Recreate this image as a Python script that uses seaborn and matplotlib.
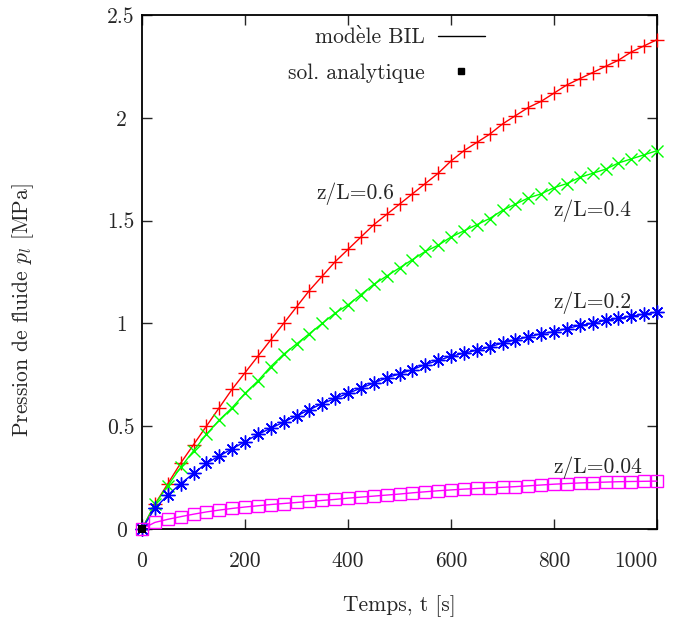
import numpy as np
import pandas as pd
import matplotlib
matplotlib.use("Agg")
import matplotlib.pyplot as plt
from matplotlib.lines import Line2D
import seaborn as sns

# ---- data ----
t = [0, 25, 50, 75, 100, 125, 150, 175, 200, 225, 250, 275, 300, 325, 350, 375,
     400, 425, 450, 475, 500, 525, 550, 575, 600, 625, 650, 675, 700, 725, 750,
     775, 800, 825, 850, 875, 900, 925, 950, 975, 1000]

p_06 = [0.00, 0.12, 0.22, 0.32, 0.41, 0.50, 0.59, 0.68, 0.76, 0.84, 0.92, 1.00,
        1.08, 1.16, 1.23, 1.30, 1.36, 1.42, 1.48, 1.53, 1.58, 1.63, 1.68, 1.73,
        1.79, 1.84, 1.88, 1.92, 1.97, 2.01, 2.05, 2.08, 2.12, 2.16, 2.19, 2.22,
        2.25, 2.28, 2.32, 2.35, 2.38]
p_04 = [0.00, 0.12, 0.21, 0.30, 0.38, 0.46, 0.53, 0.59, 0.66, 0.72, 0.79, 0.85,
        0.90, 0.95, 1.00, 1.05, 1.09, 1.14, 1.19, 1.23, 1.27, 1.31, 1.35, 1.38,
        1.42, 1.45, 1.48, 1.51, 1.55, 1.58, 1.61, 1.63, 1.66, 1.68, 1.71, 1.73,
        1.75, 1.78, 1.80, 1.82, 1.84]
p_02 = [0.00, 0.10, 0.165, 0.22, 0.27, 0.32, 0.355, 0.39, 0.425, 0.46, 0.49, 0.52,
        0.55, 0.58, 0.61, 0.635, 0.66, 0.685, 0.71, 0.735, 0.755, 0.775, 0.80,
        0.82, 0.84, 0.855, 0.87, 0.885, 0.905, 0.92, 0.935, 0.95, 0.96, 0.975,
        0.99, 1.00, 1.015, 1.025, 1.035, 1.045, 1.055]
p_004 = [0.000, 0.032, 0.047, 0.060, 0.072, 0.083, 0.092, 0.100, 0.107, 0.113,
         0.119, 0.124, 0.129, 0.134, 0.139, 0.144, 0.150, 0.155, 0.160, 0.165,
         0.170, 0.176, 0.181, 0.186, 0.190, 0.194, 0.197, 0.200, 0.203, 0.206,
         0.210, 0.214, 0.218, 0.221, 0.224, 0.226, 0.228, 0.230, 0.231, 0.232,
         0.233]

curve_labels = ["z/L=0.6", "z/L=0.4", "z/L=0.2", "z/L=0.04"]
label_pos = [(338, 1.63), (798, 1.55), (798, 1.10), (798, 0.30)]
x_ticks = [0, 200, 400, 600, 800, 1000]
y_ticks = [0, 0.5, 1, 1.5, 2, 2.5]
y_tick_labels = ["0", "0.5", "1", "1.5", "2", "2.5"]
# "modèle" written with a combining grave accent so the CM font renders it
legend_labels = ["mode\u0300le BIL", "sol. analytique"]

# ---- style ----
sns.set_style("ticks")
plt.rcParams["font.family"] = ["cmr10", "DejaVu Serif"]
plt.rcParams["mathtext.fontset"] = "cm"
plt.rcParams["axes.unicode_minus"] = False
plt.rcParams["axes.formatter.use_mathtext"] = True
FS = 15.5

fig = plt.figure(figsize=(6.83, 6.18), dpi=100)
ax = fig.add_axes([142 / 683, 1 - 529 / 618, 515 / 683, 514 / 618])

series = [p_06, p_04, p_02, p_004]
colors = ["#ff0000", "#00ff00", "#0000ff", "#ff00ff"]
markers = ["+", "x", (8, 2, 0), "s"]
msizes = [10, 9, 10, 8]

for vals, c, m, ms in zip(series, colors, markers, msizes):
    df = pd.DataFrame({"t": t, "p": vals})
    kw = dict(marker=m, markersize=ms, markeredgewidth=1.0)
    if m == "s":
        kw.update(markerfacecolor="none", markeredgecolor=c)
    else:
        kw.update(markeredgecolor=c)
    sns.lineplot(data=df, x="t", y="p", color=c, linewidth=1.0, ax=ax,
                 clip_on=False, zorder=3, **kw)

# analytic point at origin
sns.scatterplot(x=[0], y=[0], color="black", marker="s", s=40, ax=ax,
                clip_on=False, zorder=5, linewidth=0)

for lab, (xx, yy) in zip(curve_labels, label_pos):
    ax.text(xx, yy, lab, fontsize=FS, ha="left", va="center")

ax.set_xlim(0, 1000)
ax.set_ylim(0, 2.5)
ax.set_xticks(x_ticks)
ax.set_xticklabels([str(v) for v in x_ticks])
ax.set_yticks(y_ticks)
ax.set_yticklabels(y_tick_labels)
ax.tick_params(direction="in", length=7, width=1.0, top=True, right=True,
               labelsize=FS)
ax.tick_params(axis="x", pad=16)
ax.tick_params(axis="y", pad=15)
for lbl in ax.get_yticklabels():
    lbl.set_horizontalalignment("center")
ax.get_xticklabels()[-1].set_horizontalalignment("right")
for s in ax.spines.values():
    s.set_linewidth(1.3)
    s.set_color("black")

ax.set_xlabel("Temps, t [s]", fontsize=FS)
ax.set_ylabel(r"Pression de fluide $p_l$ [MPa]", fontsize=FS)
ax.xaxis.set_label_coords(0.5, -0.128)
ax.yaxis.set_label_coords(-0.205, 0.426)

handles = [Line2D([], [], color="black", linewidth=1.0),
           Line2D([], [], color="black", linestyle="none", marker="s",
                  markersize=4)]
ax.legend(handles, legend_labels, loc="upper right",
          bbox_to_anchor=(0.666, 0.975), frameon=False, markerfirst=False,
          fontsize=FS, handlelength=2.2, handletextpad=0.6,
          labelspacing=0.75, borderpad=0, borderaxespad=0)

fig.savefig("out.png", dpi=100)
